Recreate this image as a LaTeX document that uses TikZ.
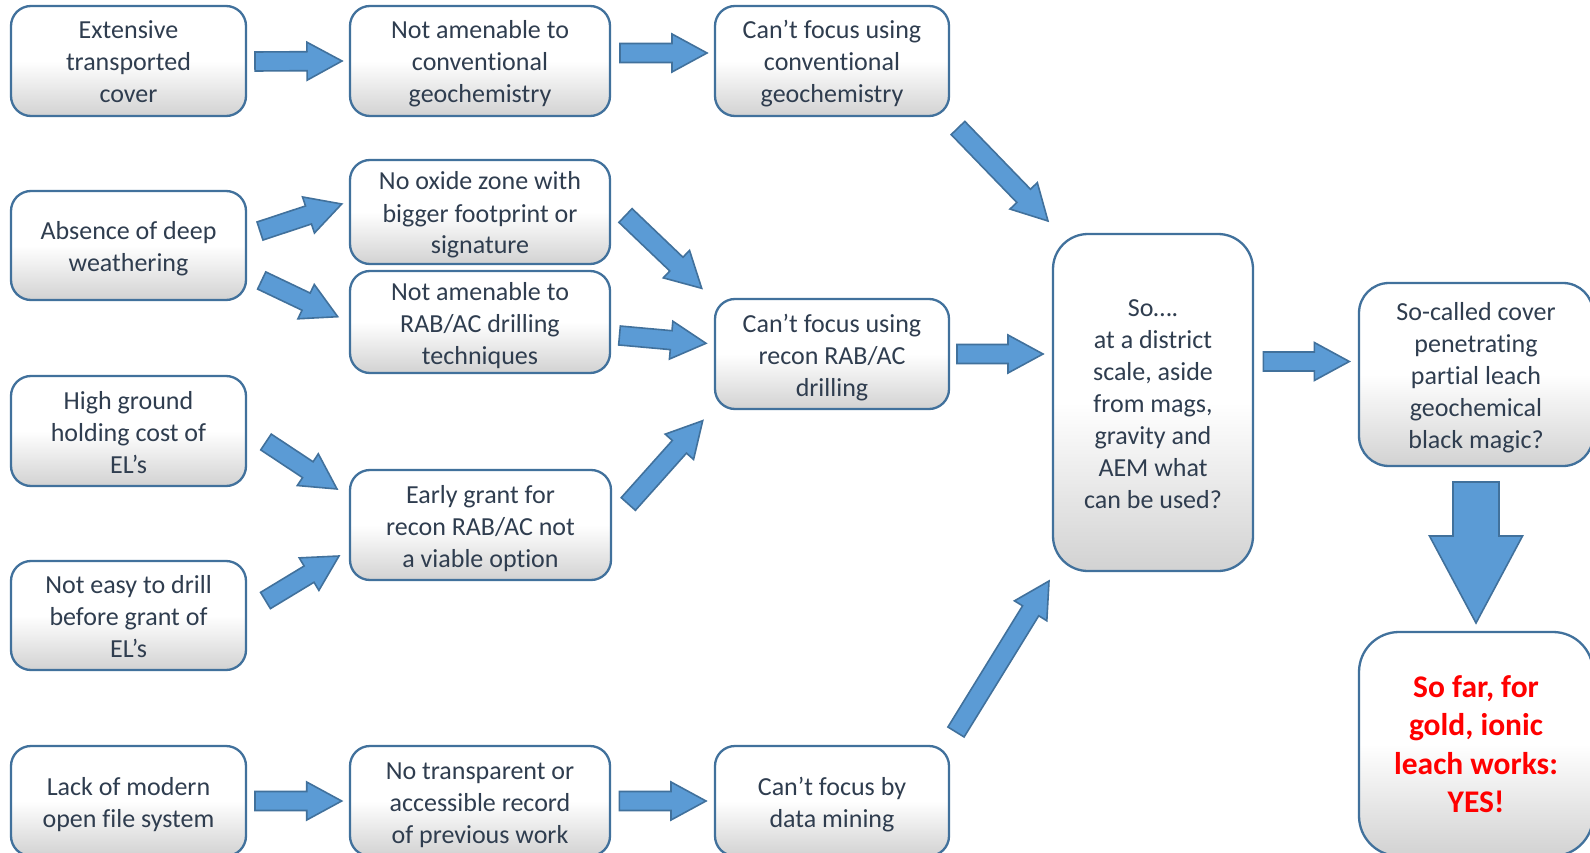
\documentclass[tikz,border=0pt]{standalone}
\usepackage{fontspec}
\setmainfont{Carlito}[Ligatures=NoCommon]
\usetikzlibrary{calc}
\definecolor{boxline}{HTML}{41719C}
\definecolor{arrfill}{HTML}{5B9BD5}
\definecolor{txt}{HTML}{2F3D4F}
\definecolor{shbot}{HTML}{D2D2D2}
\pgfdeclareverticalshading{boxshade}{100bp}{color(0bp)=(shbot); color(25bp)=(shbot); color(50bp)=(white); color(100bp)=(white)}
\newcommand{\topstrutx}{\rule{0pt}{27pt}}
\newcommand{\botstrutx}{\rule[-7pt]{0pt}{7pt}}
\tikzset{
  basebox/.style={draw=boxline, line width=2.3pt, rounded corners=20pt, shading=boxshade,
    align=center, text=txt, inner sep=2pt},
  fbox/.style={basebox, font=\fontsize{26}{32}\selectfont},
  barr/.style={fill=arrfill, draw=boxline, line width=1.6pt, line join=miter}
}
\newcommand{\blockarr}[5]{%
  \coordinate (hb) at ($(#2)!#5!(#1)$);
  \draw[barr] ($(#1)!#3!90:(#2)$) -- ($(hb)!#3!-90:(#1)$) -- ($(hb)!#4!-90:(#1)$) -- (#2)
    -- ($(hb)!#4!90:(#1)$) -- ($(hb)!#3!90:(#1)$) -- ($(#1)!#3!-90:(#2)$) -- cycle;}
\begin{document}
\begin{tikzpicture}[x=1pt,y=-1pt]
\useasboundingbox (0,0) rectangle (1590,853);
\clip (0,0) rectangle (1590,853);
\fill[white] (0,0) rectangle (1590,853);
% boxes
\node[fbox, minimum width=235pt, minimum height=110pt] (A) at (128.5,61) {\topstrutx Extensive\\transported\\cover\botstrutx};
\node[fbox, minimum width=260pt, minimum height=110pt] (B) at (480,61) {\topstrutx Not amenable to\\conventional\\geochemistry\botstrutx};
\node[fbox, minimum width=234pt, minimum height=110pt] (C) at (832,61) {\topstrutx Can’t focus using\\conventional\\geochemistry\botstrutx};
\node[fbox, minimum width=235pt, minimum height=109pt] (D) at (128.5,245.5) {\topstrutx Absence of deep\\weathering\botstrutx};
\node[fbox, minimum width=260pt, minimum height=104pt] (E) at (480,212) {\topstrutx No oxide zone with\\bigger footprint or\\signature\botstrutx};
\node[fbox, minimum width=260pt, minimum height=96pt] (F) at (480,322) {\topstrutx Not amenable to\\RAB/AC drilling\\techniques\botstrutx};
\node[fbox, minimum width=235pt, minimum height=110pt] (G) at (128.5,431) {\topstrutx High ground\\holding cost of\\EL’s\botstrutx};
\node[fbox, minimum width=261pt, minimum height=110pt] (H) at (480.5,525) {\topstrutx Early grant for\\recon RAB/AC not\\a viable option\botstrutx};
\node[fbox, minimum width=235pt, minimum height=109pt] (I) at (128.5,615.5) {\topstrutx Not easy to drill\\before grant of\\EL’s\botstrutx};
\node[fbox, minimum width=235pt, minimum height=110pt] (J) at (128.5,801) {\topstrutx Lack of modern\\open file system\botstrutx};
\node[fbox, minimum width=260pt, minimum height=110pt] (K) at (480,801) {\topstrutx No transparent or\\accessible record\\of previous work\botstrutx};
\node[fbox, minimum width=234pt, minimum height=110pt] (L) at (832,801) {\topstrutx Can’t focus by\\data mining\botstrutx};
\node[fbox, minimum width=234pt, minimum height=110pt] (M) at (832,354) {\topstrutx Can’t focus using\\recon RAB/AC\\drilling\botstrutx};
\node[fbox, rounded corners=35pt, minimum width=200pt, minimum height=337pt] (N) at (1153,402.5) {\topstrutx So….\\at a district\\scale, aside\\from mags,\\gravity and\\AEM what\\can be used?\botstrutx};
\node[fbox, rounded corners=30pt, minimum width=234pt, minimum height=183pt] (O) at (1476,374.5) {\topstrutx So-called cover\\penetrating\\partial leach\\geochemical\\black magic?\botstrutx};
\node[basebox, rounded corners=40pt, minimum width=234pt, minimum height=224pt, text=red, font=\fontsize{31.5}{38.5}\selectfont\bfseries] (P) at (1476,744) {So far, for\\gold, ionic\\leach works:\\YES!};
% arrow end points
\coordinate (ab1) at (255,61.5);   \coordinate (ab2) at (342,61);
\coordinate (bc1) at (620,53);     \coordinate (bc2) at (707,53);
\coordinate (cn1) at (958,128);    \coordinate (cn2) at (1048,221);
\coordinate (de1) at (260,231);    \coordinate (de2) at (341.7,204);
\coordinate (df1) at (261.7,280.5);\coordinate (df2) at (337.7,316.7);
\coordinate (em1) at (625.5,215.5);\coordinate (em2) at (701.7,288.3);
\coordinate (fm1) at (619.5,335.5);\coordinate (fm2) at (706,343.3);
\coordinate (gh1) at (266,442);    \coordinate (gh2) at (337,489);
\coordinate (ih1) at (265.5,600.5);\coordinate (ih2) at (339,556);
\coordinate (hm1) at (628.3,504);  \coordinate (hm2) at (702.7,420.7);
\coordinate (mn1) at (957,354);    \coordinate (mn2) at (1043,354);
\coordinate (ln1) at (956,732);    \coordinate (ln2) at (1049,581);
\coordinate (no1) at (1263.3,361.5);\coordinate (no2) at (1349.3,361.5);
\coordinate (jk1) at (255,801);    \coordinate (jk2) at (341.7,801);
\coordinate (kl1) at (619.3,801);  \coordinate (kl2) at (706,801);
\coordinate (op1) at (1476,482);   \coordinate (op2) at (1476,623);
% block arrows
\blockarr{ab1}{ab2}{9.5pt}{19pt}{35pt}
\blockarr{bc1}{bc2}{9.5pt}{19pt}{35pt}
\blockarr{cn1}{cn2}{9.5pt}{19pt}{35pt}
\blockarr{de1}{de2}{9.5pt}{19pt}{35pt}
\blockarr{df1}{df2}{9.5pt}{19pt}{35pt}
\blockarr{em1}{em2}{9.5pt}{19pt}{35pt}
\blockarr{fm1}{fm2}{9.5pt}{19pt}{35pt}
\blockarr{gh1}{gh2}{9.5pt}{19pt}{35pt}
\blockarr{ih1}{ih2}{9.5pt}{19pt}{35pt}
\blockarr{hm1}{hm2}{9.5pt}{19pt}{35pt}
\blockarr{mn1}{mn2}{9.5pt}{19pt}{35pt}
\blockarr{ln1}{ln2}{9.5pt}{19pt}{35pt}
\blockarr{no1}{no2}{9.5pt}{19pt}{35pt}
\blockarr{jk1}{jk2}{9.5pt}{19pt}{35pt}
\blockarr{kl1}{kl2}{9.5pt}{19pt}{35pt}
\blockarr{op1}{op2}{23pt}{46.5pt}{87pt}
\end{tikzpicture}
\end{document}
